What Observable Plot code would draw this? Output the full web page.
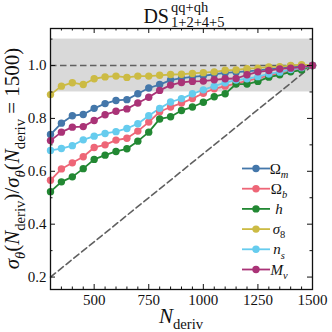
<!DOCTYPE html>
<html>
<head>
<meta charset="utf-8">
<script src="https://cdn.jsdelivr.net/npm/d3@7"></script>
<script src="https://cdn.jsdelivr.net/npm/@observablehq/plot@0.6"></script>
<style>
  html, body { margin: 0; padding: 0; background: white; }
  #chart svg { display: block; }
</style>
</head>
<body>
<div id="chart"></div>
<script>
// ---------- data ----------
const nDeriv = [300, 350, 400, 450, 500, 550, 600, 650, 700, 750, 800, 850, 900,
                950, 1000, 1050, 1100, 1150, 1200, 1250, 1300, 1350, 1400, 1450, 1500];

const omegaM = [0.739, 0.782, 0.810, 0.815, 0.838, 0.856, 0.868, 0.871, 0.893, 0.915, 0.928, 0.945, 0.952,
                0.957, 0.961, 0.967, 0.972, 0.975, 0.978, 0.982, 0.986, 0.990, 0.997, 0.998, 1.000];
const omegaB = [0.566, 0.609, 0.632, 0.655, 0.690, 0.700, 0.718, 0.725, 0.752, 0.786, 0.825, 0.843, 0.858,
                0.875, 0.895, 0.912, 0.922, 0.932, 0.942, 0.952, 0.962, 0.972, 0.982, 0.990, 1.000];
const hubble = [0.523, 0.560, 0.579, 0.610, 0.645, 0.661, 0.675, 0.685, 0.714, 0.748, 0.798, 0.806, 0.830,
                0.843, 0.861, 0.882, 0.893, 0.930, 0.930, 0.940, 0.956, 0.965, 0.976, 0.983, 1.000];
const sigma8 = [0.890, 0.922, 0.935, 0.928, 0.950, 0.957, 0.960, 0.955, 0.960, 0.960, 0.963, 0.966, 0.967,
                0.970, 0.973, 0.976, 0.982, 0.983, 0.988, 0.990, 0.995, 0.996, 1.000, 1.003, 1.000];
const nS     = [0.679, 0.686, 0.697, 0.719, 0.733, 0.743, 0.750, 0.762, 0.780, 0.810, 0.838, 0.862, 0.875,
                0.893, 0.908, 0.922, 0.935, 0.945, 0.950, 0.958, 0.968, 0.975, 0.985, 0.992, 1.000];
const mNu    = [0.716, 0.748, 0.767, 0.769, 0.792, 0.814, 0.827, 0.836, 0.858, 0.880, 0.906, 0.926, 0.936,
                0.940, 0.941, 0.946, 0.950, 0.951, 0.965, 0.976, 0.981, 0.987, 0.990, 0.994, 1.000];

const seriesKeys = ["Om", "Ob", "h", "s8", "ns", "Mnu"];
const seriesValues = [omegaM, omegaB, hubble, sigma8, nS, mNu];
const seriesColors = ["#4477AA", "#EE6677", "#228833", "#CCBB44", "#66CCEE", "#AA3377"];
const legendLabels = [
  [{t: "Ω"}, {t: "m", lvl: 1, it: true}],
  [{t: "Ω"}, {t: "b", lvl: 1, it: true}],
  [{t: "h", it: true}],
  [{t: "σ", it: true}, {t: "8", lvl: 1}],
  [{t: "n", it: true}, {t: "s", lvl: 1, it: true}],
  [{t: "M", it: true}, {t: "ν", lvl: 1, it: true}]
];

const xDomain = [300, 1500];
const yDomain = [0.153, 1.14];
const xMajor = [500, 750, 1000, 1250, 1500];
const xMinor = [350, 400, 450, 550, 600, 650, 700, 800, 850, 900, 950, 1050, 1100, 1150, 1200, 1300, 1350, 1400, 1450];
const yMajor = [0.2, 0.4, 0.6, 0.8, 1.0];
const yMinor = [0.3, 0.5, 0.7, 0.9, 1.1];
const band = [[0.9, 1.1]];
const refLevel = [1.0];
const idealN = [300, 1500];
const ideal = idealN.map(n => ({n, v: n / 1500}));

const rows = [];
seriesKeys.forEach((k, i) => nDeriv.forEach((n, j) => rows.push({key: k, n, v: seriesValues[i][j]})));

// ---------- layout ----------
const W = 332, H = 332, mL = 50, mR = 20, mT = 28, mB = 43;
const fw = W - mL - mR, fh = H - mT - mB;
const FONT = "'Liberation Serif', 'DejaVu Serif', serif";
const INK = "#111";

const chart = Plot.plot({
  width: W, height: H,
  marginLeft: mL, marginRight: mR, marginTop: mT, marginBottom: mB,
  style: {fontFamily: FONT, fontSize: "15px", color: INK, background: "white"},
  x: {domain: xDomain},
  y: {domain: yDomain},
  color: {domain: seriesKeys, range: seriesColors},
  marks: [
    Plot.rect(band, {x1: xDomain[0], x2: xDomain[1], y1: d => d[0], y2: d => d[1], fill: "#d9d9d9"}),
    Plot.ruleY(refLevel, {stroke: "#606060", strokeWidth: 1.6, strokeDasharray: "6.5,3.5"}),
    Plot.line(ideal, {x: "n", y: "v", stroke: "#606060", strokeWidth: 1.6, strokeDasharray: "6.5,3.5"}),
    Plot.line(rows, {x: "n", y: "v", z: "key", stroke: "key", strokeWidth: 1.8}),
    Plot.dot(rows, {x: "n", y: "v", fill: "key", r: 3.7, stroke: "none"}),
    // inward ticks
    Plot.tickX(xMajor, {x: d => d, insetTop: fh - 5, stroke: INK}),
    Plot.tickX(xMajor, {x: d => d, insetBottom: fh - 5, stroke: INK}),
    Plot.tickX(xMinor, {x: d => d, insetTop: fh - 2.5, stroke: INK}),
    Plot.tickX(xMinor, {x: d => d, insetBottom: fh - 2.5, stroke: INK}),
    Plot.tickY(yMajor, {y: d => d, insetRight: fw - 5, stroke: INK}),
    Plot.tickY(yMajor, {y: d => d, insetLeft: fw - 5, stroke: INK}),
    Plot.tickY(yMinor, {y: d => d, insetRight: fw - 2.5, stroke: INK}),
    Plot.tickY(yMinor, {y: d => d, insetLeft: fw - 2.5, stroke: INK}),
    Plot.axisX(xMajor, {tickSize: 0, tickPadding: 5, label: null, tickFormat: d => String(d), fontSize: 15}),
    Plot.axisY(yMajor, {tickSize: 0, tickPadding: 4, label: null, tickFormat: d => d.toFixed(1), fontSize: 15}),
    Plot.frame({stroke: INK, strokeWidth: 1.3})
  ]
});
document.getElementById("chart").appendChild(chart);

// ---------- rich text helper ----------
const svg = d3.select(chart);
function rich(parent, parts, size) {
  const t = parent.append("text").attr("font-family", FONT).attr("fill", INK).attr("font-size", size);
  let cur = 0;
  parts.forEach(p => {
    const lvl = p.lvl || 0;
    const target = lvl === 1 ? 0.28 * size : lvl === -1 ? -0.42 * size : 0;
    const ts = t.append("tspan").text(p.t)
      .attr("dy", target - cur)
      .attr("font-size", lvl ? size * 0.7 : size);
    if (p.it) ts.attr("font-style", "italic");
    cur = target;
  });
  return t;
}

// legend
const legend = svg.append("g");
seriesKeys.forEach((k, i) => {
  const y = 168.5 + i * 20.2;
  legend.append("line").attr("x1", 242).attr("x2", 270).attr("y1", y).attr("y2", y)
    .attr("stroke", seriesColors[i]).attr("stroke-width", 1.8);
  legend.append("circle").attr("cx", 256).attr("cy", y).attr("r", 3.7).attr("fill", seriesColors[i]);
  rich(legend, legendLabels[i], 15).attr("x", 279).attr("y", y + 5);
});

// x label
rich(svg, [{t: "N", it: true}, {t: "deriv", lvl: 1}], 21)
  .attr("text-anchor", "middle").attr("x", mL + fw / 2).attr("y", 323);

// y label
rich(svg, [
  {t: "σ", it: true}, {t: "θ", lvl: 1, it: true}, {t: "("}, {t: "N", it: true}, {t: "deriv", lvl: 1},
  {t: ")/"}, {t: "σ", it: true}, {t: "θ", lvl: 1, it: true}, {t: "("}, {t: "N", it: true},
  {t: "deriv", lvl: 1}, {t: " = 1500)"}
], 21).attr("text-anchor", "middle")
  .attr("transform", `translate(19,${mT + fh / 2}) rotate(-90)`);

// title: DS^{qq+qh}_{1+2+4+5}
const split = 170;   // where "DS" ends and the stacked scripts begin
const base = 22.5;
const tg = svg.append("g").attr("font-family", FONT).attr("fill", INK);
tg.append("text").attr("font-size", 20).attr("text-anchor", "end")
  .attr("x", split - 1).attr("y", base).text("DS");
tg.append("text").attr("font-size", 14.5).attr("text-anchor", "start")
  .attr("x", split + 1).attr("y", base - 10.5).text("qq+qh");
tg.append("text").attr("font-size", 14.5).attr("text-anchor", "start")
  .attr("x", split + 1).attr("y", base + 4.5).text("1+2+4+5");
</script>
</body>
</html>
